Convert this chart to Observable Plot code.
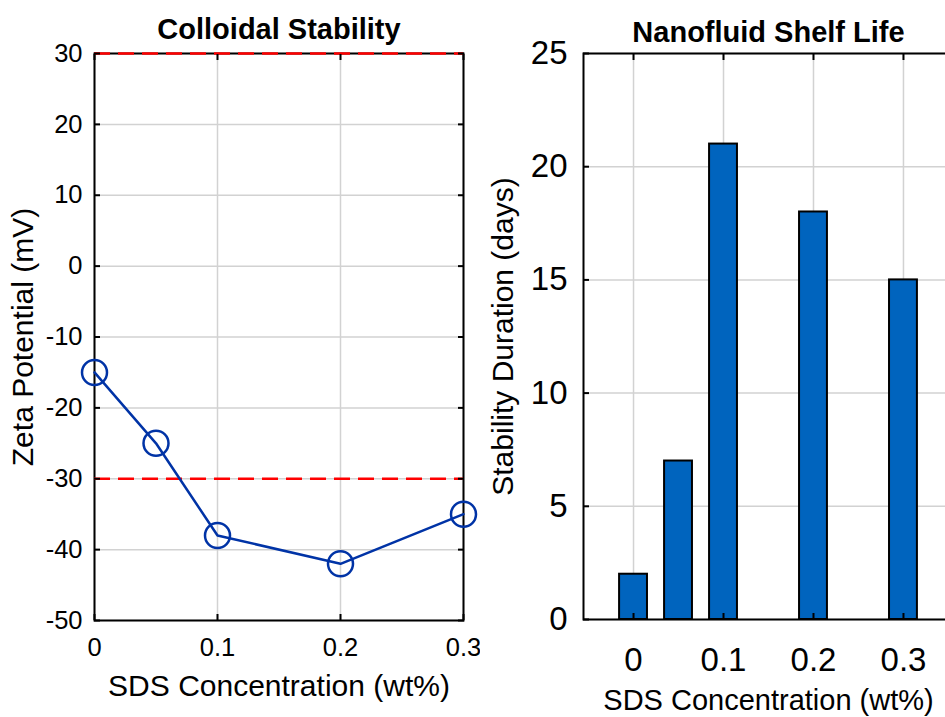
<!DOCTYPE html>
<html>
<head>
<meta charset="utf-8">
<script src="https://cdn.jsdelivr.net/npm/d3@7"></script>
<script src="https://cdn.jsdelivr.net/npm/@observablehq/plot@0.6"></script>
<style>
  html, body { margin: 0; padding: 0; background: #fff; overflow: hidden; }
  #wrap { position: relative; width: 945px; height: 717px; overflow: hidden; background: #fff; }
  #left, #right { position: absolute; top: 0; }
  #left { left: 0; width: 480px; }
  #right { left: 480px; width: 493px; }
  svg { max-width: none !important; }
</style>
</head>
<body>
<div id="wrap"><div id="left"></div><div id="right"></div></div>
<script>
// ---- data ----
const sdsConc = [0, 0.05, 0.1, 0.2, 0.3];
const zetaPotential = [-15, -25, -38, -42, -35];
const stabilityDays = [2, 7, 21, 18, 15];
const stabilityThresholds = [30, -30];
const zetaTicks = [-50, -40, -30, -20, -10, 0, 10, 20, 30];
const concTicks = [0, 0.1, 0.2, 0.3];
const dayTicks = [0, 5, 10, 15, 20, 25];
const titles = ["Colloidal Stability", "Nanofluid Shelf Life"];
const xLabel = "SDS Concentration (wt%)";
const yLabels = ["Zeta Potential (mV)", "Stability Duration (days)"];

const zetaData = sdsConc.map((c, i) => ({c, z: zetaPotential[i]}));
const dayData = sdsConc.map((c, i) => ({c, d: stabilityDays[i]}));

const FONT = "'Liberation Sans', Arial, sans-serif";
const gridStyle = {stroke: "#d2d2d2", strokeOpacity: 1, strokeWidth: 1.5};
const lineColor = "#0033A6";
const barColor = "#0064BE";
const fmt = d => String(d);
const centered = {textAnchor: "middle", lineAnchor: "middle", fill: "black"};

const left = Plot.plot({
  width: 480, height: 717,
  marginLeft: 94, marginRight: 17, marginTop: 53, marginBottom: 97,
  style: {fontFamily: FONT, background: "white", color: "black"},
  x: {domain: [0, 0.3]},
  y: {domain: [-50, 30]},
  marks: [
    Plot.gridY(zetaTicks, gridStyle),
    Plot.gridX(concTicks, gridStyle),
    Plot.frame({stroke: "black", strokeWidth: 2}),
    Plot.ruleY(stabilityThresholds, {stroke: "#ff0000", strokeWidth: 2.5, strokeDasharray: "16,8"}),
    Plot.axisY(zetaTicks, {anchor: "left", tickSize: -6, tickPadding: 18, tickFormat: fmt, fontSize: 25.5, strokeWidth: 2, label: null}),
    Plot.axisY(zetaTicks, {anchor: "right", tickSize: -6, tickFormat: () => "", strokeWidth: 2, label: null}),
    Plot.axisX(concTicks, {anchor: "bottom", tickSize: -6, tickPadding: 23, tickFormat: fmt, fontSize: 25.5, strokeWidth: 2, label: null}),
    Plot.axisX(concTicks, {anchor: "top", tickSize: -6, tickFormat: () => "", strokeWidth: 2, label: null}),
    Plot.line(zetaData, {x: "c", y: "z", stroke: lineColor, strokeWidth: 2.5}),
    Plot.dot(zetaData, {x: "c", y: "z", r: 12.5, stroke: lineColor, strokeWidth: 2.5, fill: "none"}),
    Plot.text([titles[0]], {text: d => d, frameAnchor: "top", dy: -24, fontSize: 29, fontWeight: "bold", ...centered}),
    Plot.text([xLabel], {text: d => d, frameAnchor: "bottom", dy: 66, fontSize: 30, ...centered}),
    Plot.text([yLabels[0]], {text: d => d, frameAnchor: "left", dx: -71, rotate: -90, fontSize: 30, ...centered})
  ]
});
document.getElementById("left").append(left);

const barHalf = 0.0155;
const right = Plot.plot({
  width: 493, height: 717,
  marginLeft: 103, marginRight: 20, marginTop: 53, marginBottom: 98,
  style: {fontFamily: FONT, background: "white", color: "black"},
  x: {domain: [-0.0556, 0.3556]},
  y: {domain: [0, 25]},
  marks: [
    Plot.gridY(dayTicks, gridStyle),
    Plot.gridX(concTicks, gridStyle),
    Plot.rectY(dayData, {x1: d => d.c - barHalf, x2: d => d.c + barHalf, y1: 0, y2: "d", fill: barColor, stroke: "black", strokeWidth: 2}),
    Plot.frame({stroke: "black", strokeWidth: 2}),
    Plot.axisY(dayTicks, {anchor: "left", tickSize: -6, tickPadding: 22, tickFormat: fmt, fontSize: 33, strokeWidth: 2, label: null}),
    Plot.axisY(dayTicks, {anchor: "right", tickSize: -6, tickFormat: () => "", strokeWidth: 2, label: null}),
    Plot.axisX(concTicks, {anchor: "bottom", tickSize: -6, tickPadding: 34, tickFormat: fmt, fontSize: 33, strokeWidth: 2, label: null}),
    Plot.axisX(concTicks, {anchor: "top", tickSize: -6, tickFormat: () => "", strokeWidth: 2, label: null}),
    Plot.text([titles[1]], {text: d => d, frameAnchor: "top", dy: -21, fontSize: 29, fontWeight: "bold", ...centered}),
    Plot.text([xLabel], {text: d => d, frameAnchor: "bottom", dy: 81, fontSize: 29, ...centered}),
    Plot.text([yLabels[1]], {text: d => d, frameAnchor: "left", dx: -80, rotate: -90, fontSize: 30, ...centered})
  ]
});
document.getElementById("right").append(right);
</script>
</body>
</html>
